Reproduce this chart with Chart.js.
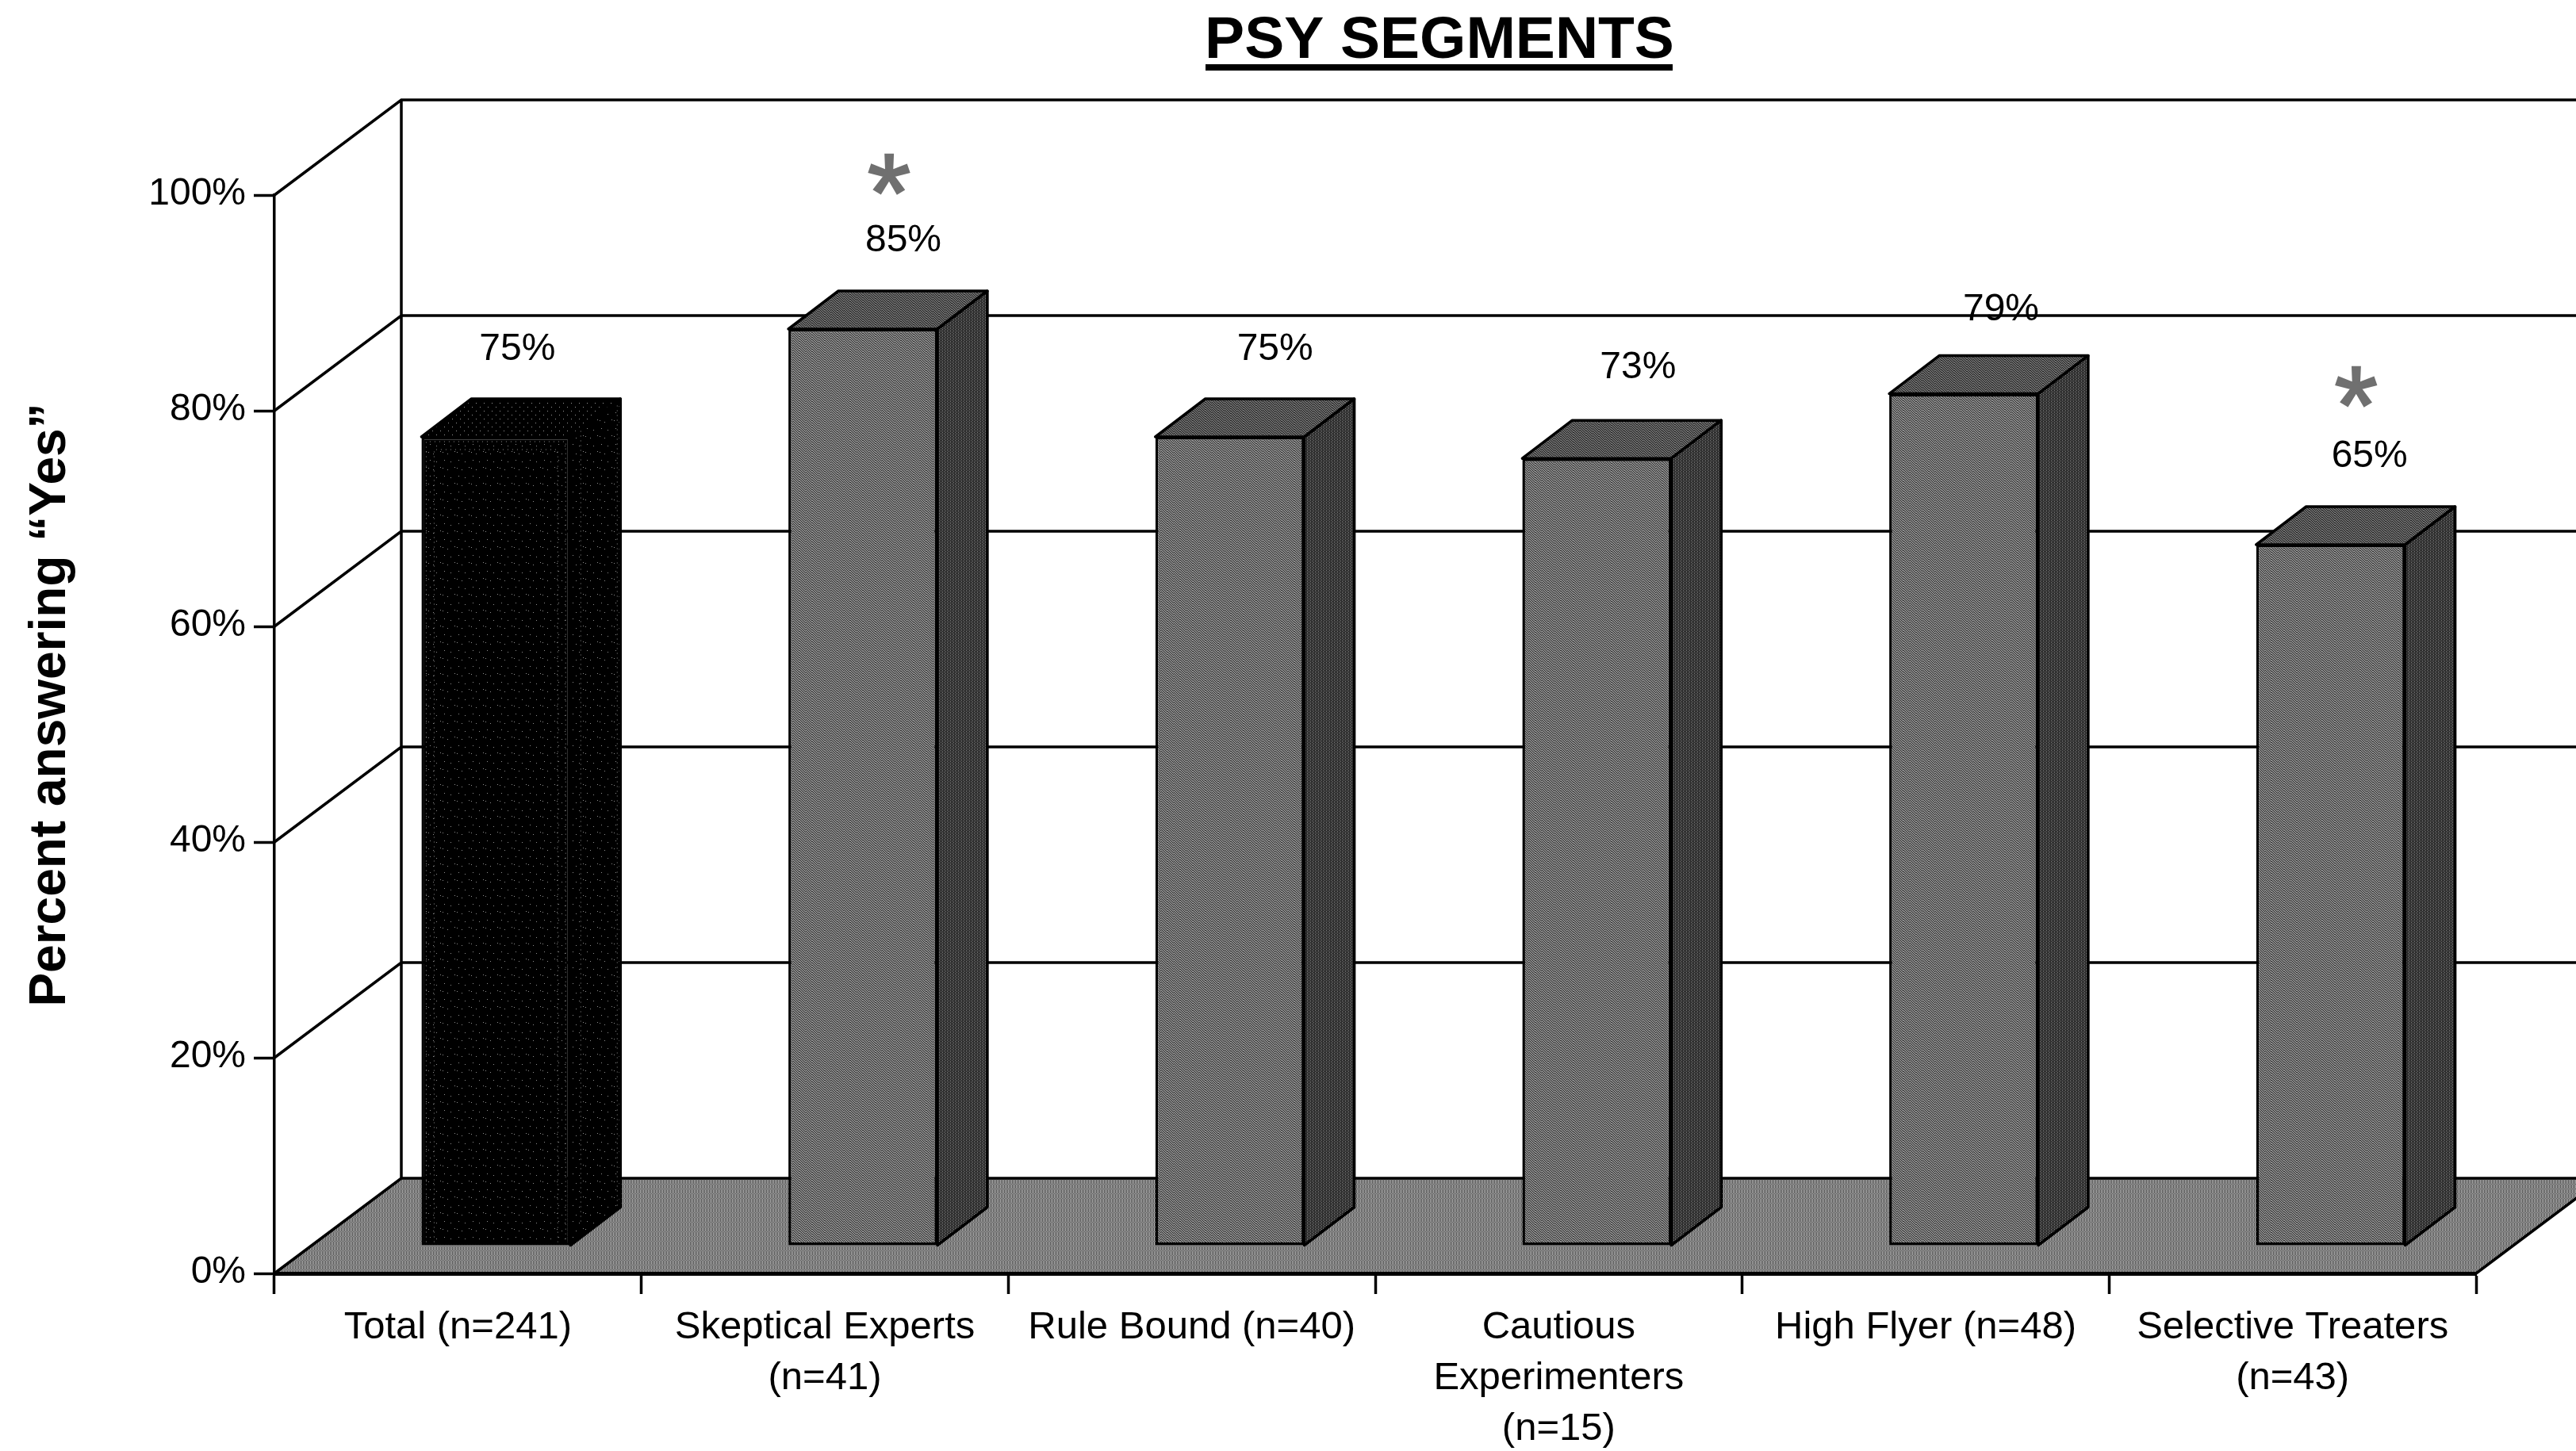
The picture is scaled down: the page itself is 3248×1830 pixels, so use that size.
<!DOCTYPE html>
<html><head><meta charset="utf-8">
<style>html,body{margin:0;padding:0;background:#fff}canvas{display:block}</style>
<script src="https://cdn.jsdelivr.net/npm/chart.js@4/dist/chart.umd.min.js"></script>
</head><body>
<canvas id="c" width="3248" height="1830"></canvas>
<script>
const categories = ["Total (n=241)", ["Skeptical Experts","(n=41)"], "Rule Bound (n=40)", ["Cautious","Experimenters","(n=15)"], "High Flyer (n=48)", ["Selective Treaters","(n=43)"]];
const percentYes = [75, 85, 75, 73, 79, 65];
const significant = [false, true, false, false, false, true];
const yTicks = [0, 20, 40, 60, 80, 100];
const chartTitle = "PSY SEGMENTS";
const yAxisTitle = "Percent answering “Yes”";

const FONT = '"Liberation Sans", Arial, sans-serif';
const WALL = {dx:160, dy:-120};
const BAR_SHIFT = {dx:48, dy:-35};
const BAR_DEPTH = {dx:63, dy:-48};
const labelNudge = [{x:27,y:-110},{x:51,y:-111},{x:57,y:-110},{x:52,y:-114},{x:47,y:-106},{x:49,y:-111}];
const starNudge = {1:{x:33,y:-216}, 5:{x:32,y:-220}};

// Stipple fills: tiles built from a fixed pixel rule, so the surfaces read like the reference's halftone.
function tile(w, h, rule){
  const t = document.createElement('canvas'); t.width = w; t.height = h;
  const g = t.getContext('2d');
  for (let y=0;y<h;y++) for (let x=0;x<w;x++){ g.fillStyle = rule(x,y); g.fillRect(x,y,1,1); }
  return g.createPattern(t,'repeat');
}
const weave = (dark, light) => (x,y) => ((x - y + (Math.floor(x/8)%2) + 36) % 3 === 0 ? dark : light);
const frontFill = tile(48,48, weave('#303030','#8a8a8a'));
const topFill   = tile(48,48, weave('#202020','#6c6c6c'));
const sideFill  = tile(8,8, (x,y) => (x%2===0 && (y + x/2)%2===0 ? '#929292' : '#202020'));
const floorFill = tile(8,12, (x,y) => ((y%6<4 ? x%2===0 : (x+y)%2===0) ? '#4e4e4e' : '#b0b0b0'));
const totalFill = tile(18,20, (x,y) => ((x===3&&y===4)||(x===12&&y===7)||(x===8&&y===15)||(x===16&&y===17)||(x===6&&y===5) ? '#8c8c8c' : '#000000'));
const totalTop  = tile(10,10, (x,y) => ((x===2&&y===3)||(x===7&&y===8) ? '#9a9a9a' : '#000000'));

const scene3d = {
  id:'scene3d',
  beforeDraw(chart){
    const {ctx, chartArea:a, scales:{y}} = chart;
    const bx = a.left + WALL.dx, by = a.bottom + WALL.dy;
    ctx.save();
    ctx.fillStyle = floorFill;
    ctx.beginPath();
    ctx.moveTo(a.left, a.bottom); ctx.lineTo(bx, by);
    ctx.lineTo(a.right + WALL.dx, by); ctx.lineTo(a.right, a.bottom); ctx.closePath();
    ctx.fill();
    ctx.strokeStyle = '#000'; ctx.lineWidth = 3.5;
    ctx.beginPath();
    yTicks.forEach(v=>{
      const py = y.getPixelForValue(v);
      ctx.moveTo(a.left, py); ctx.lineTo(bx, py + WALL.dy);
      ctx.lineTo(a.right + WALL.dx, py + WALL.dy);
    });
    ctx.moveTo(bx, y.getPixelForValue(100) + WALL.dy); ctx.lineTo(bx, by);
    ctx.moveTo(a.right, a.bottom); ctx.lineTo(a.right + WALL.dx, by);
    ctx.stroke();
    ctx.fillStyle = '#000'; ctx.textAlign = 'center'; ctx.textBaseline = 'alphabetic';
    ctx.font = `bold 75px ${FONT}`;
    ctx.fillText(chartTitle, 1815, 73);
    ctx.fillRect(1520, 81, 589, 8);
    ctx.save();
    ctx.translate(82, 889); ctx.rotate(-Math.PI/2);
    ctx.font = `bold 64px ${FONT}`;
    ctx.fillText(yAxisTitle, 0, 0);
    ctx.restore();
    ctx.restore();
  },
  beforeDatasetDraw(chart, args){
    const {ctx} = chart;
    ctx.save();
    ctx.translate(BAR_SHIFT.dx, BAR_SHIFT.dy);
    args.meta.data.forEach((b,i)=>{
      const {x, y, base, width} = b.getProps(['x','y','base','width'], true);
      const l = x - width/2, r = x + width/2;
      ctx.lineWidth = 3.5; ctx.strokeStyle = '#000'; ctx.lineJoin = 'round';
      const isTotal = i === 0;
      ctx.fillStyle = isTotal ? totalTop : topFill;
      ctx.beginPath();
      ctx.moveTo(l,y); ctx.lineTo(l+BAR_DEPTH.dx,y+BAR_DEPTH.dy); ctx.lineTo(r+BAR_DEPTH.dx,y+BAR_DEPTH.dy); ctx.lineTo(r,y); ctx.closePath();
      ctx.fill(); ctx.stroke();
      ctx.fillStyle = isTotal ? totalFill : sideFill;
      ctx.beginPath();
      ctx.moveTo(r,y); ctx.lineTo(r+BAR_DEPTH.dx,y+BAR_DEPTH.dy); ctx.lineTo(r+BAR_DEPTH.dx,base+BAR_DEPTH.dy); ctx.lineTo(r,base); ctx.closePath();
      ctx.fill(); ctx.stroke();
    });
  },
  afterDatasetDraw(chart, args){
    const {ctx} = chart;
    // dotted contour lines inside the black "Total" bar
    const {x, y, base, width} = args.meta.data[0].getProps(['x','y','base','width'], true);
    const l = x - width/2, r = x + width/2;
    ctx.strokeStyle = '#8c8c8c'; ctx.lineWidth = 1; ctx.setLineDash([1,5]);
    [6, 16].forEach(inset=>{
      ctx.beginPath();
      ctx.moveTo(l+inset, base-4); ctx.lineTo(l+inset, y+inset); ctx.lineTo(r-inset, y+inset); ctx.lineTo(r-inset, base-4);
      ctx.stroke();
    });
    ctx.beginPath();
    ctx.moveTo(r+13, base-30); ctx.lineTo(r+13, y-10);
    ctx.moveTo(r+59, base-50); ctx.lineTo(r+59, y-44);
    ctx.stroke();
    ctx.setLineDash([]);
    ctx.restore();
  },
  afterDatasetsDraw(chart){
    const {ctx, scales:{x,y}} = chart;
    ctx.save();
    ctx.textAlign = 'center';
    percentYes.forEach((v,i)=>{
      const cx = x.getPixelForValue(i) + BAR_SHIFT.dx, top = y.getPixelForValue(v) + BAR_SHIFT.dy;
      ctx.font = `48px ${FONT}`; ctx.fillStyle = '#000'; ctx.textBaseline = 'middle';
      ctx.fillText(v + '%', cx + labelNudge[i].x, top + labelNudge[i].y);
      if (significant[i]) {
        ctx.font = `140px ${FONT}`; ctx.fillStyle = '#707070'; ctx.strokeStyle = '#707070'; ctx.lineWidth = 2.5;
        ctx.textBaseline = 'alphabetic';
        ctx.fillText('*', cx + starNudge[i].x, top + starNudge[i].y + 92);
        ctx.strokeText('*', cx + starNudge[i].x, top + starNudge[i].y + 92);
      }
    });
    ctx.restore();
  }
};

new Chart(document.getElementById('c').getContext('2d'), {
  type:'bar',
  data:{labels:categories, datasets:[{
    data:percentYes,
    backgroundColor:percentYes.map((_,i)=>i===0?totalFill:frontFill),
    borderColor:'#000', borderWidth:3.5, borderSkipped:false,
    barPercentage:0.406, categoryPercentage:1, clip:false
  }]},
  options:{
    responsive:false, animation:false, devicePixelRatio:1,
    layout:{padding:{left:0,right:126,top:246,bottom:0}},
    plugins:{legend:{display:false},tooltip:{enabled:false},title:{display:false}},
    scales:{
      x:{
        grid:{drawOnChartArea:false,drawTicks:true,tickLength:26,tickWidth:3.5,tickColor:'#000',offset:true},
        border:{display:true,color:'#000',width:5},
        ticks:{font:{family:FONT,size:49,lineHeight:1.306},color:'#000',padding:10,maxRotation:0,minRotation:0,autoSkip:false},
        afterFit(s){s.height=224;}
      },
      y:{
        min:0,max:100,
        afterBuildTicks(s){s.ticks=yTicks.map(v=>({value:v}));},
        grid:{drawOnChartArea:false,drawTicks:true,tickLength:26,tickWidth:3.5,tickColor:'#000'},
        border:{display:true,color:'#000',width:3.5},
        ticks:{font:{family:FONT,size:48},color:'#000',padding:10,labelOffset:-1,callback:v=>v+'%'},
        afterFit(s){s.width=346;}
      }
    }
  },
  plugins:[scene3d]
});
</script>
</body></html>
